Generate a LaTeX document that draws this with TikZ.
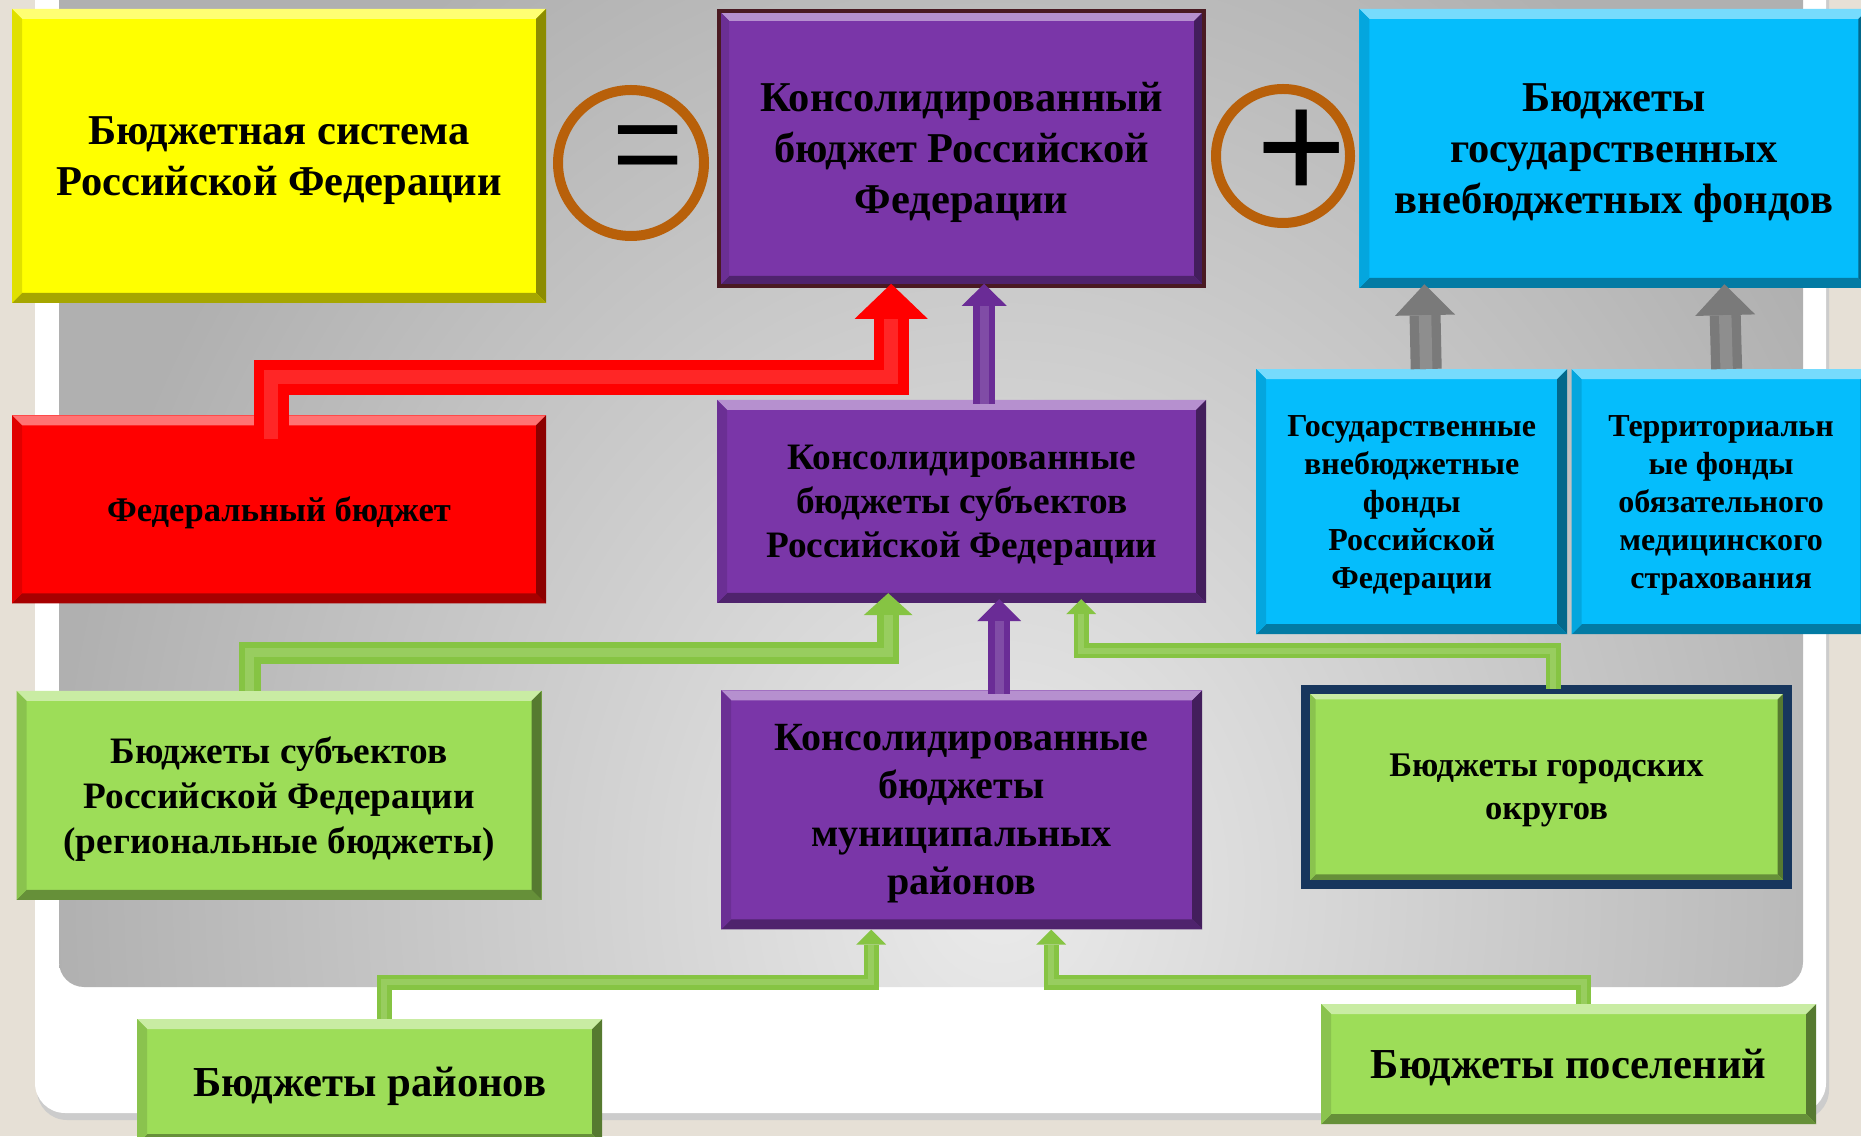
\documentclass[tikz,border=0pt]{standalone}
\usepackage{fontspec}
\setmainfont{Liberation Serif}
\newfontfamily\signfont{Liberation Sans}
\usepackage{tikz}
\usetikzlibrary{arrows.meta,positioning}

\definecolor{pagebeige}{HTML}{E6E0D6}
\definecolor{sysyellow}{HTML}{FFFF00}
\definecolor{consviolet}{HTML}{7A36A8}
\definecolor{consframe}{HTML}{4A1A22}
\definecolor{fundblue}{HTML}{05BDFC}
\definecolor{fedred}{HTML}{FF0000}
\definecolor{levelgreen}{HTML}{9DDD58}
\definecolor{framenavy}{HTML}{17365D}
\definecolor{ringbrown}{HTML}{B8600A}
\definecolor{pipeviolet}{HTML}{6A2C96}
\definecolor{pipegreen}{HTML}{86C443}
\definecolor{pipegray}{HTML}{7A7A7A}

\newcommand{\txtsize}[2]{\fontsize{#1}{#2}\selectfont\bfseries}

\begin{document}
\begin{tikzpicture}[
    x=1pt, y=1pt,
    box/.style={inner sep=0pt, align=center, font=\txtsize{42.5}{51}, text depth=-5pt},
    topbox/.style={box, text depth=-12pt},
    bevel/.style={fill=#1, path picture={
        \coordinate (sw) at (path picture bounding box.south west);
        \coordinate (ne) at (path picture bounding box.north east);
        \coordinate (nw) at (path picture bounding box.north west);
        \coordinate (se) at (path picture bounding box.south east);
        \fill[#1!55!white] (nw) -- (ne) -- ([shift={(-10,-10)}]ne) -- ([shift={(10,-10)}]nw) -- cycle;
        \fill[#1!55!black] (ne) -- (se) -- ([shift={(-10,10)}]se) -- ([shift={(-10,-10)}]ne) -- cycle;
        \fill[#1!65!black] (se) -- (sw) -- ([shift={(10,10)}]sw) -- ([shift={(-10,10)}]se) -- cycle;
        \fill[#1!88!black] (sw) -- (nw) -- ([shift={(10,-10)}]nw) -- ([shift={(10,10)}]sw) -- cycle;
      }},
    ring/.style={circle, draw=ringbrown, line width=10pt, inner sep=0pt},
    sign/.style={inner sep=0pt, font=\signfont\fontsize{#1}{#1}\selectfont},
    pipe/.style n args={3}{draw=#1, line width=#2, line join=miter,
      -{Triangle[length=#2, width=#3, line width=0pt]},
      postaction={draw=#1!85!white, line width=0.4*#2, -, shorten >=#2}}
  ]
  \useasboundingbox (0,0) rectangle (1861,1136);

  % background panels
  \fill[pagebeige] (0,0) rectangle (1861,1136);
  \fill[black!20, rounded corners=30pt] (37,16) rectangle (1829,1170);
  \fill[white, rounded corners=30pt] (35,23) rectangle (1826,1170);
  \begin{scope}
    \clip[rounded corners=25pt] (59,149) rectangle (1803,1170);
    \shade[inner color=black!8, outer color=black!31] (50,-850) rectangle (1950,1350);
  \end{scope}

  % top row
  \node[topbox, bevel=sysyellow, minimum width=534pt, minimum height=294pt] (sys) at (279,980) {Бюджетная система\\Российской Федерации};
  \node[topbox, bevel=consviolet, draw=consframe, line width=4pt, minimum width=485pt, minimum height=275pt, anchor=north west] (cons) at ([xshift=171pt]sys.north east) {Консолидированный\\бюджет Российской\\Федерации};
  \node[topbox, bevel=fundblue, minimum width=509pt, minimum height=279pt, anchor=north west] (offb) at ([xshift=153pt]cons.north east) {Бюджеты\\государственных\\внебюджетных фондов};

  \node[ring, minimum size=146pt] (eq) at (631,973) {};
  \node[sign=122] (eqsign) at (648,980) {=};
  \node[ring, minimum size=134pt] (plus) at (1283,980) {};
  \node[sign=155] (plussign) at (1302,981) {+};

  % second row
  \node[box, bevel=fedred, minimum width=534pt, minimum height=188pt, below=112pt of sys, font=\txtsize{34.6}{41}] (fed) {Федеральный бюджет};
  \node[box, bevel=consviolet, minimum width=489pt, minimum height=203pt, below=112pt of cons, font=\txtsize{37.3}{44}] (subj) {Консолидированные\\бюджеты субъектов\\Российской Федерации};
  \node[box, bevel=fundblue, minimum width=311pt, minimum height=265pt, anchor=north west, font=\txtsize{32}{38}] (gvf) at (1256,767) {Государственные\\внебюджетные\\фонды\\Российской\\Федерации};
  \node[box, bevel=fundblue, minimum width=299pt, minimum height=265pt, right=4pt of gvf, font=\txtsize{32}{38}] (tfoms) {Территориальн\\ые фонды\\обязательного\\медицинского\\страхования};

  % third row
  \node[box, bevel=levelgreen, minimum width=525pt, minimum height=209pt, below=87pt of fed, font=\txtsize{37.3}{45}] (reg) {Бюджеты субъектов\\Российской Федерации\\(региональные бюджеты)};
  \node[box, bevel=consviolet, minimum width=481pt, minimum height=239pt, below=87pt of subj, font=\txtsize{40}{48}] (mun) {Консолидированные\\бюджеты\\муниципальных\\районов};
  \node[box, bevel=levelgreen, draw=framenavy, line width=9pt, minimum width=482pt, minimum height=195pt, anchor=north west, font=\txtsize{34.5}{43}] (city) at (1301,451) {Бюджеты городских\\округов};

  % bottom row
  \node[box, bevel=levelgreen, minimum width=465pt, minimum height=125pt, anchor=north west, font=\txtsize{42.7}{50}] (rai) at (137,117) {Бюджеты районов};
  \node[box, bevel=levelgreen, minimum width=495pt, minimum height=120pt, anchor=north west, font=\txtsize{42.7}{50}] (pos) at (1321,132) {Бюджеты поселений};

  % connectors
  \draw[pipe={fedred}{35pt}{73pt}]
    ([xshift=-8pt, yshift=-24pt]fed.north) -- ++(0,62) -| ([xshift=-70.5pt, yshift=4pt]cons.south);
  \draw[pipe={pipeviolet}{22pt}{45pt}]
    ([xshift=22.5pt, yshift=-4pt]subj.north) -- ([xshift=22.5pt, yshift=4pt]cons.south);
  \draw[pipe={pipeviolet}{22pt}{44pt}]
    ([xshift=37.5pt, yshift=-4pt]mun.north) -- ([xshift=37.5pt, yshift=4pt]subj.south);
  \draw[pipe={pipegreen}{22pt}{49pt}]
    ([xshift=-29.5pt]reg.north) -- ++(0,38) -| ([xshift=-73.5pt, yshift=10pt]subj.south);
  \draw[pipe={pipegreen}{15pt}{30pt}]
    ([xshift=6.5pt, yshift=-4pt]city.north) -- ++(0,38) -| ([xshift=119.5pt, yshift=4pt]subj.south);
  \draw[pipe={pipegreen}{15pt}{30pt}]
    ([xshift=14.5pt]rai.north) -- ++(0,37) -| ([xshift=-90.5pt]mun.south);
  \draw[pipe={pipegreen}{15pt}{30pt}]
    ([xshift=15pt]pos.north) -- ++(0,22) -| ([xshift=89.5pt]mun.south);
  \draw[pipe={pipegray}{31pt}{60pt}]
    ([xshift=14.5pt]gvf.north) -- ([xshift=-189.5pt, yshift=4pt]offb.south);
  \draw[pipe={pipegray}{31pt}{60pt}]
    ([xshift=5.5pt]tfoms.north) -- ([xshift=110.5pt, yshift=4pt]offb.south);
\end{tikzpicture}
\end{document}
